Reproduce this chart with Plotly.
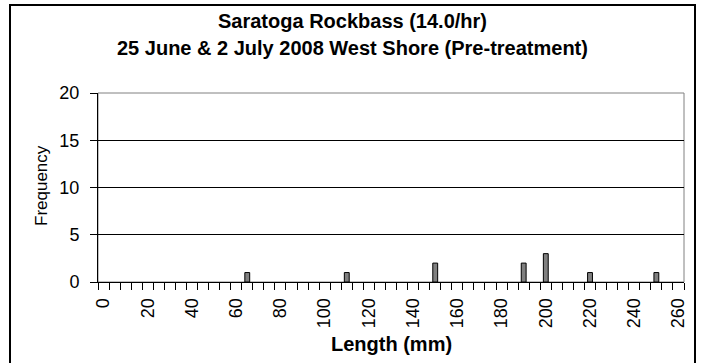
import plotly.graph_objects as go

# Length-frequency counts (5 mm bins); only non-empty bins listed
lengths_mm = [65, 110, 150, 190, 200, 220, 250]
counts = [1, 1, 2, 2, 3, 1, 1]

x_tick_vals = [0, 20, 40, 60, 80, 100, 120, 140, 160, 180, 200, 220, 240, 260]
y_tick_vals = [0, 5, 10, 15, 20]

title_line1 = "Saratoga Rockbass (14.0/hr)"
title_line2 = "25 June & 2 July 2008 West Shore (Pre-treatment)"
x_title = "Length (mm)"
y_title = "Frequency"

FONT = "Liberation Sans, Arial, sans-serif"

W, H = 702, 363
ML, MR, MT, MB = 98, 18, 93, 81
PW, PH = W - ML - MR, H - MT - MB


def px_x(p):
    return (p - ML) / PW


def px_y(p):
    return (H - MB - p) / PH


fig = go.Figure(
    go.Bar(
        x=lengths_mm,
        y=counts,
        width=2.2,
        marker=dict(color="#808080", line=dict(color="black", width=1)),
    )
)

fig.update_layout(
    width=W,
    height=H,
    margin=dict(l=ML, r=MR, t=MT, b=MB),
    paper_bgcolor="white",
    plot_bgcolor="white",
    showlegend=False,
    font=dict(family=FONT, color="black"),
    xaxis=dict(
        range=[-2.5, 262.5],
        tickmode="array",
        tickvals=x_tick_vals,
        ticktext=[str(v) for v in x_tick_vals],
        tickangle=-90,
        ticks="",
        tickfont=dict(size=18),
        ticklabelstandoff=8,
        showgrid=False,
        zeroline=False,
        showline=True,
        linecolor="black",
        linewidth=1,
        minor=dict(ticks="outside", tick0=-2.5, dtick=5, ticklen=7,
                   tickcolor="black", tickwidth=1, showgrid=False),
        fixedrange=True,
    ),
    yaxis=dict(
        range=[0, 20],
        tickmode="array",
        tickvals=y_tick_vals,
        ticks="outside",
        ticklen=7,
        tickcolor="black",
        tickfont=dict(size=18),
        ticklabelstandoff=7,
        showgrid=True,
        gridcolor="black",
        gridwidth=1,
        zeroline=False,
        showline=True,
        linecolor="black",
        linewidth=1,
        fixedrange=True,
    ),
    shapes=[
        # plot-area frame
        dict(type="rect", xref="paper", yref="paper", x0=0, x1=1, y0=0, y1=1,
             line=dict(color="#808080", width=1), layer="below"),
        # outer chart border
        dict(type="rect", xref="paper", yref="paper",
             x0=px_x(10), x1=px_x(695), y0=px_y(368), y1=px_y(5),
             line=dict(color="black", width=2), layer="above"),
    ],
    annotations=[
        dict(text=f"<b>{title_line1}</b>", xref="paper", yref="paper",
             x=px_x(352), y=px_y(21), xanchor="center", yanchor="middle",
             showarrow=False, font=dict(size=20)),
        dict(text=f"<b>{title_line2}</b>", xref="paper", yref="paper",
             x=px_x(352), y=px_y(48), xanchor="center", yanchor="middle",
             showarrow=False, font=dict(size=20)),
        dict(text=f"<b>{x_title}</b>", xref="paper", yref="paper",
             x=px_x(391), y=px_y(344), xanchor="center", yanchor="middle",
             showarrow=False, font=dict(size=20)),
        dict(text=y_title, xref="paper", yref="paper", textangle=-90,
             x=px_x(41), y=px_y(186), xanchor="center", yanchor="middle",
             showarrow=False, font=dict(size=17)),
    ],
)

fig.write_html("out.html", config={"displayModeBar": False})
